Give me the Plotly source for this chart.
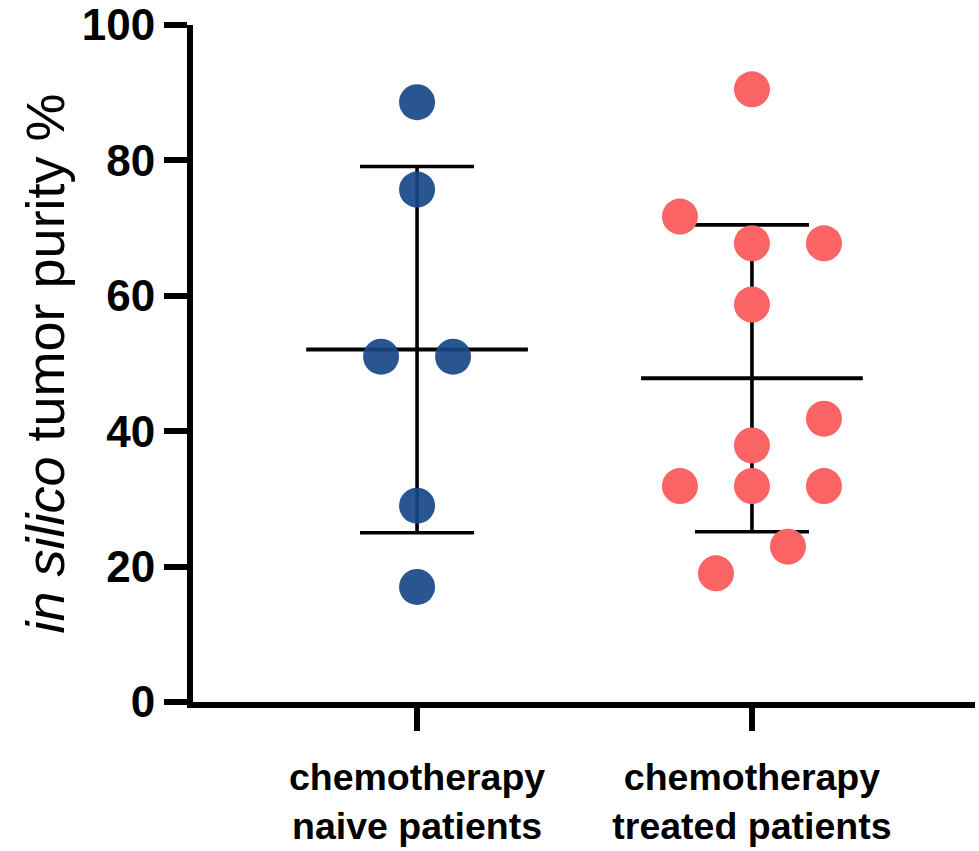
import numpy as np
import plotly.graph_objects as go

# ---- data ----
categories = ["chemotherapy<br>naive patients", "chemotherapy<br>treated patients"]
naive_values = [88.6, 75.7, 51.0, 51.0, 29.0, 17.0]
treated_values = [90.5, 71.7, 67.75, 67.75, 58.7, 41.85, 37.9, 31.9, 31.9, 31.9, 22.95, 19.0]
# horizontal slot of each dot in the scatter-dot column (units of one dot width)
naive_slots = [0, 0, -1, 1, 0, 0]
treated_slots = [0, -2, 0, 2, 0, 2, 0, -2, 0, 2, 1, -1]
y_ticks = [0, 20, 40, 60, 80, 100]

colors = ["#174787", "#FA6464"]
opacities = [0.92, 1.0]
FONT = "Arial, Liberation Sans, Helvetica, sans-serif"

slot_w = 0.1075      # one dot width in x units
mean_half = 0.331    # half length of mean line
groups = [naive_values, treated_values]
slots = [naive_slots, treated_slots]

fig = go.Figure()

for i, (vals, sl) in enumerate(zip(groups, slots)):
    v = np.array(vals)
    m = v.mean()
    sd = v.std(ddof=1)
    # SD whiskers with caps
    fig.add_trace(go.Scatter(
        x=[i], y=[m], mode="markers",
        marker=dict(size=1, color="rgba(0,0,0,0)"),
        error_y=dict(type="data", array=[sd], arrayminus=[sd], symmetric=False,
                     color="black", thickness=3.6, width=57),
        showlegend=False, hoverinfo="skip"))
    # mean line
    fig.add_trace(go.Scatter(
        x=[i - mean_half, i + mean_half], y=[m, m], mode="lines",
        line=dict(color="black", width=4), showlegend=False, hoverinfo="skip"))

for i, (vals, sl) in enumerate(zip(groups, slots)):
    fig.add_trace(go.Scatter(
        x=[i + s * slot_w for s in sl], y=vals, mode="markers",
        marker=dict(size=36, color=colors[i], opacity=opacities[i], line=dict(width=0)),
        showlegend=False))

fig.add_annotation(
    xref="paper", yref="paper", x=-0.1905, y=0.5,
    text="<i>in silico</i> tumor purity %", textangle=-90,
    showarrow=False, xanchor="center", yanchor="middle",
    font=dict(family=FONT, size=54, color="black"))

fig.update_layout(
    width=979, height=851,
    margin=dict(l=193, r=4, t=25, b=149),
    plot_bgcolor="white", paper_bgcolor="white",
    font=dict(family=FONT, color="black"),
    showlegend=False,
)
fig.update_xaxes(
    range=[-0.669, 1.666], tickvals=[0, 1], ticktext=[f"<b>{c}</b>" for c in categories],
    showline=True, linewidth=6, linecolor="black",
    ticks="outside", ticklen=23, tickwidth=6, tickcolor="black",
    ticklabelstandoff=14, ticklabeloverflow="allow", automargin=False,
    showgrid=False, zeroline=False,
    tickfont=dict(family=FONT, size=37.5, color="black"),
)
fig.update_yaxes(
    range=[0, 100], tickvals=y_ticks, ticktext=[f"<b>{t}</b>" for t in y_ticks],
    showline=True, linewidth=6, linecolor="black",
    ticks="outside", ticklen=23, tickwidth=6, tickcolor="black",
    ticklabeloverflow="allow", automargin=False,
    showgrid=False, zeroline=False,
    tickfont=dict(family=FONT, size=44, color="black"),
)

fig.write_html("out.html", config={"displayModeBar": False},
               post_script="document.body.style.margin='0';document.body.style.overflow='hidden';")
